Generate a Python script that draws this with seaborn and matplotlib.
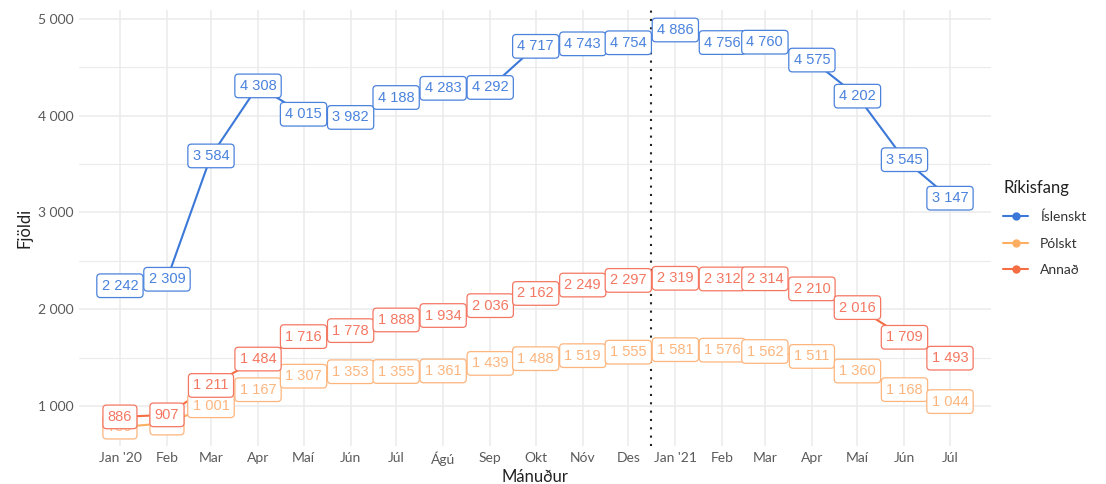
import pandas as pd
import numpy as np
import matplotlib
matplotlib.use("Agg")
import matplotlib.pyplot as plt
import matplotlib.dates as mdates
from matplotlib.lines import Line2D
import seaborn as sns

months = pd.date_range("2020-01-01", periods=19, freq="MS")
month_labels = ["Jan '20", "Feb", "Mar", "Apr", "Maí", "Jún", "Júl", "Ágú", "Sep",
                "Okt", "Nóv", "Des", "Jan '21", "Feb", "Mar", "Apr", "Maí", "Jún", "Júl"]

islenskt = [2242, 2309, 3584, 4308, 4015, 3982, 4188, 4283, 4292, 4717, 4743, 4754,
            4886, 4756, 4760, 4575, 4202, 3545, 3147]
polskt = [780, 822, 1001, 1167, 1307, 1353, 1355, 1361, 1439, 1488, 1519, 1555,
          1581, 1576, 1562, 1511, 1360, 1168, 1044]
annad = [886, 907, 1211, 1484, 1716, 1778, 1888, 1934, 2036, 2162, 2249, 2297,
         2319, 2312, 2314, 2210, 2016, 1709, 1493]

series_names = ["Íslenskt", "Pólskt", "Annað"]
colors = {"Íslenskt": "#3c78d8", "Pólskt": "#fdae61", "Annað": "#f46d43"}
text_colors = {"Íslenskt": "#4a82dc", "Pólskt": "#fdb57e", "Annað": "#f47762"}

df = pd.DataFrame({
    "Mánuður": list(months) * 3,
    "Fjöldi": islenskt + polskt + annad,
    "Ríkisfang": ["Íslenskt"] * 19 + ["Pólskt"] * 19 + ["Annað"] * 19,
})

sns.set_theme(style="whitegrid")
plt.rcParams["font.family"] = ["Lato", "DejaVu Sans"]

fig = plt.figure(figsize=(11.06, 4.84), dpi=100)
ax = fig.add_axes([0.0714, 0.0785, 0.8246, 0.9005])

sns.lineplot(data=df, x="Mánuður", y="Fjöldi", hue="Ríkisfang",
             hue_order=series_names, palette=colors, linewidth=1.5,
             marker="o", markersize=5, markeredgewidth=0, ax=ax, legend=False, zorder=2)

z = 3
for name in series_names:
    vals = df[df["Ríkisfang"] == name]
    for d, v in zip(vals["Mánuður"], vals["Fjöldi"]):
        s = f"{v:,}".replace(",", " ")
        ax.text(d, v, s, ha="center", va="center", fontsize=10.5,
                family=["Liberation Sans", "DejaVu Sans"], color=text_colors[name], zorder=z,
                bbox=dict(boxstyle="round,pad=0.33,rounding_size=0.25", fc="white",
                          ec=text_colors[name], lw=0.9))
        z += 0.01

ax.axvline(pd.Timestamp("2020-12-16"), color="#222222", linestyle=(0, (1, 3)), lw=1.5, zorder=1.5)

ax.set_xlim(pd.Timestamp("2019-12-05"), pd.Timestamp("2021-07-28"))
ax.set_ylim(585, 5091)
ax.set_xticks(months)
ax.set_xticklabels(month_labels)
ax.set_yticks([1000, 2000, 3000, 4000, 5000])
ax.set_yticklabels(["1 000", "2 000", "3 000", "4 000", "5 000"])
ax.set_yticks([1500, 2500, 3500, 4500], minor=True)
ax.grid(True, which="major", color="#ebebeb", lw=1.1)
ax.grid(True, which="minor", axis="y", color="#ebebeb", lw=0.8)
ax.tick_params(axis="both", which="both", length=0, labelsize=10, labelcolor="#5a5a5a", pad=4)
for sp in ax.spines.values():
    sp.set_visible(False)
ax.set_facecolor("white")
ax.set_xlabel("Mánuður", fontsize=12, color="#222222", labelpad=2)
ax.set_ylabel("Fjöldi", fontsize=12, color="#222222", labelpad=4)

handles = [Line2D([0], [0], color=colors[n], lw=1.5, marker="o", markersize=5) for n in series_names]
leg = ax.legend(handles, series_names, title="Ríkisfang", loc="center left",
                bbox_to_anchor=(1.0, 0.5), frameon=False, fontsize=10,
                title_fontsize=12, handlelength=1.8, labelspacing=1.05)
leg._legend_box.align = "left"
for t in leg.get_texts():
    t.set_color("#333333")
leg.get_title().set_color("#222222")

fig.savefig("out.png", dpi=100, facecolor="white")
